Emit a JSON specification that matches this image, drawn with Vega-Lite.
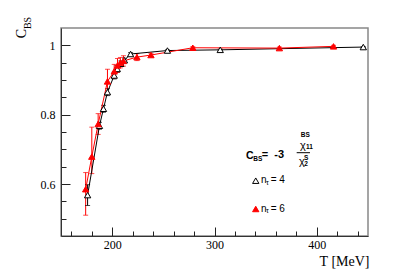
{
  "$schema": "https://vega.github.io/schema/vega-lite/v6.json",
  "width": 307,
  "height": 208,
  "autosize": {"type": "none"},
  "padding": {"left": 61, "top": 28, "right": 41, "bottom": 42},
  "background": "white",
  "config": {
    "view": {"stroke": "#888", "strokeWidth": 1.5},
    "axis": {"labelFont": "Liberation Serif", "labelFontSize": 12, "labelColor": "black", "grid": false, "domainColor": "#333", "tickColor": "#222", "tickWidth": 1, "titleFont": "Liberation Serif", "titleFontWeight": "normal", "titleColor": "black"}
  },
  "datasets": {
    "pts": [
      {"T": 176, "C": 0.568, "lo": 0.538, "hi": 0.598, "nt": "4"},
      {"T": 187.6, "C": 0.768, "lo": 0.758, "hi": 0.778, "nt": "4"},
      {"T": 191.5, "C": 0.817, "lo": 0.807, "hi": 0.827, "nt": "4"},
      {"T": 195.4, "C": 0.865, "lo": 0.855, "hi": 0.875, "nt": "4"},
      {"T": 202, "C": 0.913, "lo": 0.903, "hi": 0.923, "nt": "4"},
      {"T": 205, "C": 0.932, "lo": 0.922, "hi": 0.942, "nt": "4"},
      {"T": 208.5, "C": 0.947, "lo": 0.939, "hi": 0.955, "nt": "4"},
      {"T": 212, "C": 0.957, "lo": 0.951, "hi": 0.963, "nt": "4"},
      {"T": 218, "C": 0.975, "lo": 0.971, "hi": 0.979, "nt": "4"},
      {"T": 254, "C": 0.985, "lo": 0.983, "hi": 0.987, "nt": "4"},
      {"T": 305.6, "C": 0.987, "lo": 0.985, "hi": 0.989, "nt": "4"},
      {"T": 445.4, "C": 0.995, "lo": 0.994, "hi": 0.996, "nt": "4"},
      {"T": 174.1, "C": 0.585, "lo": 0.51, "hi": 0.633, "nt": "6"},
      {"T": 180.1, "C": 0.679, "lo": 0.63, "hi": 0.764, "nt": "6"},
      {"T": 186.3, "C": 0.773, "lo": 0.743, "hi": 0.803, "nt": "6"},
      {"T": 195.4, "C": 0.896, "lo": 0.861, "hi": 0.931, "nt": "6"},
      {"T": 202, "C": 0.925, "lo": 0.905, "hi": 0.945, "nt": "6"},
      {"T": 205.2, "C": 0.942, "lo": 0.922, "hi": 0.962, "nt": "6"},
      {"T": 208, "C": 0.95, "lo": 0.935, "hi": 0.965, "nt": "6"},
      {"T": 211, "C": 0.955, "lo": 0.94, "hi": 0.97, "nt": "6"},
      {"T": 224.2, "C": 0.966, "lo": 0.956, "hi": 0.976, "nt": "6"},
      {"T": 237.9, "C": 0.972, "lo": 0.967, "hi": 0.977, "nt": "6"},
      {"T": 278.8, "C": 0.993, "lo": 0.99, "hi": 0.996, "nt": "6"},
      {"T": 363.4, "C": 0.992, "lo": 0.989, "hi": 0.995, "nt": "6"},
      {"T": 416.3, "C": 0.997, "lo": 0.994, "hi": 1.0, "nt": "6"}
    ],
    "legendPts": [
      {"T": 340.3, "C": 0.6095, "nt": "4"},
      {"T": 340.3, "C": 0.5279, "nt": "6"}
    ]
  },
  "layer": [
    {
      "data": {"name": "pts"},
      "mark": {"type": "point", "opacity": 0},
      "encoding": {
        "x": {"field": "T", "type": "quantitative", "scale": {"domain": [150, 450], "nice": false, "zero": false},
              "axis": {"orient": "bottom", "values": [160, 180, 220, 240, 260, 280, 320, 340, 360, 380, 420, 440], "labels": false, "domain": false, "tickSize": -5, "title": null}},
        "y": {"field": "C", "type": "quantitative", "scale": {"domain": [0.45, 1.05], "nice": false, "zero": false},
              "axis": {"orient": "left", "values": [0.5, 0.55, 0.65, 0.7, 0.75, 0.85, 0.9, 0.95], "labels": false, "domain": false, "tickSize": -5, "title": null}}
      }
    },
    {
      "data": {"name": "pts"},
      "layer": [
        {"mark": {"type": "rule", "strokeWidth": 1}, "encoding": {"y": {"field": "lo", "type": "quantitative", "axis": null}, "y2": {"field": "hi"}}},
        {"mark": {"type": "tick", "orient": "horizontal", "size": 5, "thickness": 1}, "encoding": {"y": {"field": "lo", "type": "quantitative", "axis": null}}},
        {"mark": {"type": "tick", "orient": "horizontal", "size": 5, "thickness": 1}, "encoding": {"y": {"field": "hi", "type": "quantitative", "axis": null}}},
        {"mark": {"type": "line", "strokeWidth": 1}, "encoding": {"y": {"field": "C", "type": "quantitative", "axis": null}}}
      ],
      "encoding": {
        "x": {"field": "T", "type": "quantitative", "axis": null},
        "color": {"field": "nt", "type": "nominal", "scale": {"domain": ["4", "6"], "range": ["#000000", "#ff0000"]}, "legend": null},
        "detail": {"field": "nt"}
      }
    },
    {
      "data": {"name": "pts"},
      "mark": {"type": "point", "shape": "triangle-up", "size": 40, "filled": false, "strokeWidth": 1, "opacity": 1},
      "encoding": {
        "x": {"field": "T", "type": "quantitative",
              "axis": {"orient": "bottom", "values": [200, 300, 400], "tickSize": -9, "labelPadding": 12, "title": "T [MeV]", "titleFontSize": 14, "titleAnchor": "end", "titleAlign": "right", "titleX": 308, "titleY": 29, "titleBaseline": "alphabetic"}},
        "y": {"field": "C", "type": "quantitative",
              "axis": {"orient": "left", "values": [0.6, 0.8, 1], "format": ".1~f", "tickSize": -9, "labelPadding": 15, "title": "C", "titleFontSize": 14, "titleX": -40, "titleY": 5, "titleAngle": 270, "titleAlign": "center", "titleBaseline": "middle"}},
        "fill": {"field": "nt", "type": "nominal", "scale": {"domain": ["4", "6"], "range": ["#ffffff", "#ff0000"]}, "legend": null},
        "stroke": {"field": "nt", "type": "nominal", "scale": {"domain": ["4", "6"], "range": ["#000000", "#ff0000"]}, "legend": null}
      }
    },
    {
      "data": {"name": "legendPts"},
      "mark": {"type": "point", "shape": "triangle-up", "size": 40, "filled": false, "strokeWidth": 1, "opacity": 1},
      "encoding": {
        "x": {"field": "T", "type": "quantitative", "axis": null},
        "y": {"field": "C", "type": "quantitative", "axis": null},
        "fill": {"field": "nt", "type": "nominal", "legend": null},
        "stroke": {"field": "nt", "type": "nominal", "legend": null}
      }
    },
    {
      "data": {"values": [{"T": 118.2, "C": 1.0644, "t": "BS"}]},
      "mark": {"type": "text", "font": "Liberation Serif", "fontSize": 10, "angle": 270, "align": "center", "baseline": "middle", "color": "black"},
      "encoding": {"x": {"field": "T", "type": "quantitative", "axis": null}, "y": {"field": "C", "type": "quantitative", "axis": null}, "text": {"field": "t"}}
    },
    {
      "data": {"values": [{"T": 330.8, "C": 0.6808, "t": "C"}]},
      "mark": {"type": "text", "font": "Liberation Sans", "fontWeight": "bold", "fontSize": 10.5, "align": "left", "baseline": "middle", "color": "black"},
      "encoding": {"x": {"field": "T", "type": "quantitative", "axis": null}, "y": {"field": "C", "type": "quantitative", "axis": null}, "text": {"field": "t"}}
    },
    {
      "data": {"values": [{"T": 346.2, "C": 0.6837, "t": "="}, {"T": 358.5, "C": 0.6837, "t": "-3"}]},
      "mark": {"type": "text", "font": "Liberation Sans", "fontWeight": "bold", "fontSize": 11, "align": "left", "baseline": "middle", "color": "black"},
      "encoding": {"x": {"field": "T", "type": "quantitative", "axis": null}, "y": {"field": "C", "type": "quantitative", "axis": null}, "text": {"field": "t"}}
    },
    {
      "data": {"values": [
        {"T": 337.8, "C": 0.673, "t": "BS"},
        {"T": 384.3, "C": 0.7413, "t": "BS"},
        {"T": 389.4, "C": 0.7053, "t": "11"},
        {"T": 387.5, "C": 0.675, "t": "S"},
        {"T": 387.8, "C": 0.6577, "t": "2"}
      ]},
      "mark": {"type": "text", "font": "Liberation Sans", "fontWeight": "bold", "fontSize": 6.5, "align": "left", "baseline": "middle", "color": "black"},
      "encoding": {"x": {"field": "T", "type": "quantitative", "axis": null}, "y": {"field": "C", "type": "quantitative", "axis": null}, "text": {"field": "t"}}
    },
    {
      "data": {"values": [
        {"T": 383.6, "C": 0.7096, "t": "χ"},
        {"T": 382.6, "C": 0.6635, "t": "χ"}
      ]},
      "mark": {"type": "text", "font": "Liberation Sans", "fontSize": 11, "align": "left", "baseline": "middle", "color": "black"},
      "encoding": {"x": {"field": "T", "type": "quantitative", "axis": null}, "y": {"field": "C", "type": "quantitative", "axis": null}, "text": {"field": "t"}}
    },
    {
      "data": {"values": [{"T": 380.3, "T2": 393.3, "C": 0.6903}]},
      "mark": {"type": "rule", "color": "black", "strokeWidth": 1},
      "encoding": {"x": {"field": "T", "type": "quantitative", "axis": null}, "x2": {"field": "T2"}, "y": {"field": "C", "type": "quantitative", "axis": null}}
    },
    {
      "data": {"values": [
        {"T": 345.4, "C": 0.6115, "t": "n"},
        {"T": 354.9, "C": 0.6115, "t": "= 4"},
        {"T": 345.4, "C": 0.5293, "t": "n"},
        {"T": 354.9, "C": 0.5293, "t": "= 6"}
      ]},
      "mark": {"type": "text", "font": "Liberation Sans", "fontSize": 10, "align": "left", "baseline": "middle", "color": "black"},
      "encoding": {"x": {"field": "T", "type": "quantitative", "axis": null}, "y": {"field": "C", "type": "quantitative", "axis": null}, "text": {"field": "t"}}
    },
    {
      "data": {"values": [
        {"T": 350.3, "C": 0.603, "t": "τ"},
        {"T": 350.3, "C": 0.5207, "t": "τ"}
      ]},
      "mark": {"type": "text", "font": "Liberation Sans", "fontSize": 7, "align": "left", "baseline": "middle", "color": "black"},
      "encoding": {"x": {"field": "T", "type": "quantitative", "axis": null}, "y": {"field": "C", "type": "quantitative", "axis": null}, "text": {"field": "t"}}
    }
  ],
  "resolve": {"axis": {"x": "independent", "y": "independent"}}
}
